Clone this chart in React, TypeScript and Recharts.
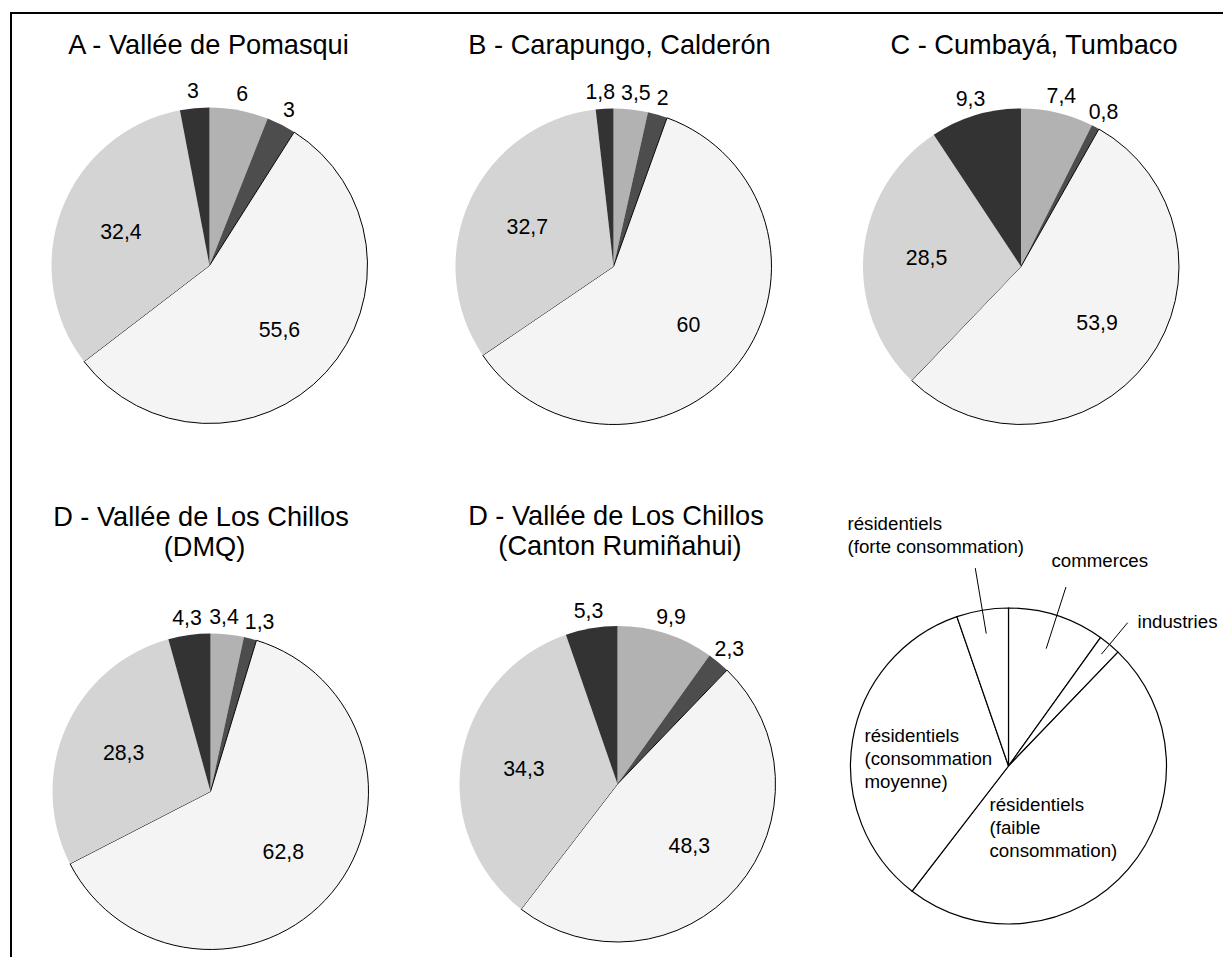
import React from "react";
import { PieChart, Pie, Cell } from "recharts";

// ---- data ----
const CATEGORIES = [
  "commerces",
  "industries",
  "résidentiels (faible consommation)",
  "résidentiels (consommation moyenne)",
  "résidentiels (forte consommation)",
];
const VALUES_A = [6, 3, 55.6, 32.4, 3];
const VALUES_B = [3.5, 2, 60, 32.7, 1.8];
const VALUES_C = [7.4, 0.8, 53.9, 28.5, 9.3];
const VALUES_D1 = [3.4, 1.3, 62.8, 28.3, 4.3];
const VALUES_D2 = [9.9, 2.3, 48.3, 34.3, 5.3];
const VALUES_LEGEND = [9.9, 2.3, 48.3, 34.3, 5.3];

const TITLES_A = ["A - Vallée de Pomasqui"];
const TITLES_B = ["B - Carapungo, Calderón"];
const TITLES_C = ["C - Cumbayá, Tumbaco"];
const TITLES_D1 = ["D - Vallée de Los Chillos", "(DMQ)"];
const TITLES_D2 = ["D - Vallée de Los Chillos", "(Canton Rumiñahui)"];

const LEGEND_TEXT = [
  ["commerces"],
  ["industries"],
  ["résidentiels", "(faible", "consommation)"],
  ["résidentiels", "(consommation", "moyenne)"],
  ["résidentiels", "(forte consommation)"],
];

// ---- styles ----
const FONT = "'Liberation Sans', Arial, sans-serif";
const FILLS = ["#b2b2b2", "#4d4d4d", "#f4f4f4", "#d4d4d4", "#333333"];
const STROKES = ["none", "none", "#000000", "none", "none"];
const RADIUS = 158;
const RAD = Math.PI / 180;
const LABEL_FS = 21.3;
const TITLE_FS = 27.2;
const OUT_GAP = 17;

const toRows = (vals: number[]) => CATEGORIES.map((name, i) => ({ name, value: vals[i] }));

const fmt = (v: number) => String(v).replace(".", ",");

const textWidth = (s: string, fs: number) =>
  s.split("").reduce((w, ch) => w + (ch === "," ? 0.278 : 0.556) * fs, 0);

// builds a label renderer; outside labels are pushed apart horizontally when they collide
const makeValueLabel = (vals: number[]) => {
  const total = vals.reduce((a, b) => a + b, 0);
  const R = RADIUS + OUT_GAP;
  let cum = 0;
  const items = vals.map((v, i) => {
    const frac = (cum + v / 2) / total;
    cum += v;
    const th = frac * 2 * Math.PI;
    return {
      i,
      outside: v < 15,
      x: Math.sin(th) * R,
      y: -Math.cos(th) * R,
      w: textWidth(fmt(v), LABEL_FS),
      shift: 0,
    };
  });
  const out = items.filter((o) => o.outside);
  for (let iter = 0; iter < 30; iter++) {
    out.sort((a, b) => a.x + a.shift - (b.x + b.shift));
    let moved = false;
    for (let a = 0; a < out.length; a++) {
      for (let b = a + 1; b < out.length; b++) {
        const A = out[a];
        const B = out[b];
        if (Math.abs(A.y - B.y) >= LABEL_FS) continue;
        const need = (A.w + B.w) / 2 + 6;
        const have = B.x + B.shift - (A.x + A.shift);
        if (have < need) {
          const d = (need - have) / 2;
          A.shift -= d;
          B.shift += d;
          moved = true;
        }
      }
    }
    if (!moved) break;
  }
  const shifts = items.map((o) => o.shift);

  return (props: any) => {
    const { cx, cy, midAngle, outerRadius, value, index } = props;
    const inside = value >= 15;
    const r = inside ? outerRadius * 0.6 : outerRadius + OUT_GAP;
    const x = cx + r * Math.cos(-midAngle * RAD) + (inside ? 0 : shifts[index]);
    const y = cy + r * Math.sin(-midAngle * RAD);
    return (
      <text
        key={`lbl-${index}`}
        x={x}
        y={y}
        textAnchor="middle"
        dominantBaseline="central"
        fontFamily={FONT}
        fontSize={LABEL_FS}
        fill="#000"
      >
        {fmt(value)}
      </text>
    );
  };
};

// legend label placement (leader line radii fractions, text offset from centre)
const LEGEND_LAYOUT = [
  { line: [0.78, 1.19], dx: 43, dy: -199 },
  { line: [0.92, 1.18], dx: 129, dy: -138 },
  { line: null, dx: -19, dy: 45 },
  { line: null, dx: -144, dy: -24 },
  { line: [0.85, 1.27], dx: -161, dy: -236 },
];

const renderLegendLabel = (props: any) => {
  const { cx, cy, midAngle, outerRadius, index } = props;
  const lay = LEGEND_LAYOUT[index];
  const lines = LEGEND_TEXT[index];
  const cos = Math.cos(-midAngle * RAD);
  const sin = Math.sin(-midAngle * RAD);
  return (
    <g key={`leg-${index}`}>
      {lay.line && (
        <line
          x1={cx + outerRadius * lay.line[0] * cos}
          y1={cy + outerRadius * lay.line[0] * sin}
          x2={cx + outerRadius * lay.line[1] * cos}
          y2={cy + outerRadius * lay.line[1] * sin}
          stroke="#000"
          strokeWidth={1}
        />
      )}
      <text x={cx + lay.dx} y={cy + lay.dy} fontFamily={FONT} fontSize={18.7} fill="#000">
        {lines.map((t, i) => (
          <tspan key={i} x={cx + lay.dx} dy={i === 0 ? 0 : 23}>
            {t}
          </tspan>
        ))}
      </text>
    </g>
  );
};

const PANELS = [
  { vals: VALUES_A, cx: 209.5, cy: 265.5 },
  { vals: VALUES_B, cx: 613.5, cy: 266.5 },
  { vals: VALUES_C, cx: 1021, cy: 266.5 },
  { vals: VALUES_D1, cx: 210.5, cy: 791.5 },
  { vals: VALUES_D2, cx: 617.5, cy: 784 },
];

const TITLE_POS = [
  { lines: TITLES_A, x: [208.5], y: 54 },
  { lines: TITLES_B, x: [619.5], y: 54 },
  { lines: TITLES_C, x: [1034], y: 53.5 },
  { lines: TITLES_D1, x: [201, 204.5], y: 526 },
  { lines: TITLES_D2, x: [616, 620], y: 525 },
];

const LABELERS = PANELS.map((p) => makeValueLabel(p.vals));

export default function App() {
  return (
    <div style={{ position: "fixed", left: 0, top: 0, width: 1223, height: 957, background: "#fff", overflow: "hidden" }}>
      <div style={{ position: "absolute", left: 0, top: 0 }}>
        <PieChart width={1223} height={957} margin={{ top: 0, right: 0, bottom: 0, left: 0 }}>
          {PANELS.map((p, k) => (
            <Pie
              key={k}
              data={toRows(p.vals)}
              dataKey="value"
              nameKey="name"
              cx={p.cx}
              cy={p.cy}
              outerRadius={RADIUS}
              startAngle={90}
              endAngle={-270}
              isAnimationActive={false}
              label={LABELERS[k]}
              labelLine={false}
            >
              {p.vals.map((_, i) => (
                <Cell key={i} fill={FILLS[i]} stroke={STROKES[i]} strokeWidth={1} />
              ))}
            </Pie>
          ))}
          <Pie
            data={toRows(VALUES_LEGEND)}
            dataKey="value"
            nameKey="name"
            cx={1008.5}
            cy={766}
            outerRadius={RADIUS}
            startAngle={90}
            endAngle={-270}
            isAnimationActive={false}
            label={renderLegendLabel}
            labelLine={false}
          >
            {VALUES_LEGEND.map((_, i) => (
              <Cell key={i} fill="#ffffff" stroke="#000000" strokeWidth={1.2} />
            ))}
          </Pie>
        </PieChart>
      </div>
      <svg width={1223} height={957} style={{ position: "absolute", left: 0, top: 0, pointerEvents: "none" }}>
        <line x1={10} y1={13} x2={1223} y2={13} stroke="#000" strokeWidth={2} />
        <line x1={11} y1={12} x2={11} y2={957} stroke="#000" strokeWidth={2} />
        {TITLE_POS.map((t, k) => (
          <text key={k} fontFamily={FONT} fontSize={TITLE_FS} fill="#000" textAnchor="middle">
            {t.lines.map((s, i) => (
              <tspan key={i} x={t.x[i]} y={t.y + i * 30}>
                {s}
              </tspan>
            ))}
          </text>
        ))}
      </svg>
    </div>
  );
}
